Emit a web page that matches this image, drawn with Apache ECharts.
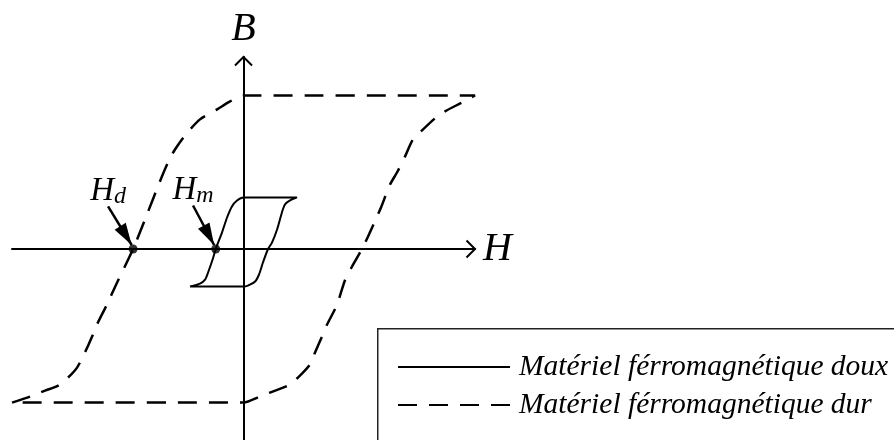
<!DOCTYPE html>
<html>
<head>
<meta charset="utf-8">
<script src="https://cdn.jsdelivr.net/npm/echarts@6/dist/echarts.min.js"></script>
<style>
  html, body { margin: 0; padding: 0; background: #ffffff; }
  #chart { width: 894px; height: 440px; }
</style>
</head>
<body>
<div id="chart"></div>
<script>
// Hard ferromagnetic material: one full cycle of the B(H) loop (arbitrary units)
const hardH = [-10, -9.22, -8.57, -8.01, -7.58, -7.19, -6.85, -6.54, -6.33, -5.90, -5.46, -4.77, -4.17, -3.61, -3.26, -2.96, -2.53, -1.88, -1.14, -0.58, 0,
               10, 9.44, 8.70, 8.27, 7.71, 7.32, 6.98, 6.63, 6.33, 5.94, 5.77, 5.38, 5.12, 4.69, 4.38, 4.04, 3.61, 3.39, 3.09, 2.87, 2.35, 1.92, 1.14, 0.71, 0, -10];
const hardB = [-10, -9.61, -9.22, -8.89, -8.37, -7.72, -6.74, -5.70, -4.92, -3.62, -2.18, 0, 2.25, 4.40, 5.64, 6.48, 7.39, 8.44, 9.09, 9.61, 10,
               10, 9.54, 8.96, 8.50, 7.72, 7.13, 6.03, 4.98, 4.20, 2.70, 2.12, 0.81, 0, -1.14, -2.05, -3.62, -4.92, -5.70, -6.74, -7.52, -8.37, -8.89, -9.35, -9.61, -10, -10];

// Soft ferromagnetic material: narrow loop
const softH = [-2.31, -1.88, -1.66, -1.53, -1.32, -1.2, -0.93, -0.71, -0.50, -0.28, 0,
               2.31, 2.01, 1.79, 1.66, 1.45, 1.23, 1.06, 0.84, 0.67, 0.50, 0.19, 0, -2.31];
const softB = [-2.44, -2.25, -1.99, -1.53, -0.62, 0, 1.07, 2.05, 2.77, 3.16, 3.36,
               3.36, 3.16, 2.90, 2.38, 1.27, 0.42, 0, -0.88, -1.66, -2.12, -2.38, -2.44, -2.44];

// Coercive fields marked on the H axis, with their pointer arrows
const coerciveH = [-4.77, -1.2];
const coerciveSub = ['d', 'm'];
const pointerTailH = [-5.85, -2.18];
const pointerTailB = [2.77, 2.83];
const pointerTipH = [-4.83, -1.27];
const pointerTipB = [0.26, 0.26];

const seriesNames = ['Matériel férromagnétique doux', 'Matériel férromagnétique dur'];
const axisNames = ['H', 'B'];

const H_RANGE = [-10, 10];
const B_RANGE = [-12.5, 12.5];

const serif = 'Liberation Serif, Times New Roman, serif';
const zip = (xs, ys) => xs.map((x, i) => [x, ys[i]]);

const chart = echarts.init(document.getElementById('chart'), null, { renderer: 'canvas' });

const axisText = { fontFamily: serif, fontStyle: 'italic', fontSize: 40, color: '#000' };

// Legend frame: open towards the right and bottom edges of the canvas
const legendFrame = { left: 377, top: 328 };

chart.setOption({
  animation: false,
  backgroundColor: '#ffffff',
  grid: { left: 12, top: 57, width: 463, height: 384, outerBoundsMode: 'none', containLabel: false },
  xAxis: {
    type: 'value', min: H_RANGE[0], max: H_RANGE[1],
    name: axisNames[0], nameLocation: 'end', nameGap: 8,
    nameTextStyle: axisText,
    axisLine: { show: true, onZero: true, lineStyle: { color: '#000', width: 2 } },
    axisTick: { show: false }, axisLabel: { show: false }, splitLine: { show: false }
  },
  yAxis: {
    type: 'value', min: B_RANGE[0], max: B_RANGE[1],
    name: axisNames[1], nameLocation: 'end', nameGap: 8,
    nameTextStyle: axisText,
    axisLine: { show: true, onZero: true, lineStyle: { color: '#000', width: 2 } },
    axisTick: { show: false }, axisLabel: { show: false }, splitLine: { show: false }
  },
  legend: {
    data: seriesNames,
    orient: 'vertical',
    left: legendFrame.left, top: legendFrame.top,
    padding: [24, 0, 0, 20],
    itemWidth: 112, itemHeight: 14, itemGap: 8,
    selectedMode: false,
    itemStyle: { opacity: 0 },
    textStyle: { fontFamily: serif, fontStyle: 'italic', fontSize: 29.5, color: '#000', lineHeight: 30, padding: [0, 0, 0, 4] }
  },
  series: [
    {
      name: seriesNames[0], type: 'line', data: zip(softH, softB),
      symbol: 'none', smooth: 0.25, silent: true, z: 3,
      lineStyle: { color: '#000', width: 2, type: 'solid' }, itemStyle: { color: '#000' }
    },
    {
      name: seriesNames[1], type: 'line', data: zip(hardH, hardB),
      symbol: 'none', smooth: 0.25, silent: true, z: 3,
      lineStyle: { color: '#000', width: 2.5, type: [19, 12] }, itemStyle: { color: '#000' }
    },
    {
      name: 'coercive', type: 'scatter', data: coerciveH.map(h => [h, 0]),
      symbol: 'circle', symbolSize: 9, silent: true, z: 5,
      itemStyle: { color: '#000' },
      markLine: {
        silent: true, animation: false,
        symbol: ['none', 'triangle'],
        symbolSize: [0, [13, 22]],
        symbolOffset: [0, [0, '50%']],
        label: { show: false },
        lineStyle: { color: '#000', width: 2.5, type: 'solid' },
        emphasis: { disabled: true },
        data: coerciveH.map((h, i) => [
          { coord: [pointerTailH[i], pointerTailB[i]] },
          { coord: [pointerTipH[i], pointerTipB[i]], symbolSize: [13, 22], symbolOffset: [0, '50%'] }
        ])
      }
    },
    {
      name: 'coercive labels', type: 'scatter', silent: true, z: 5,
      data: coerciveSub.map((s, i) => ({ value: [pointerTailH[i], pointerTailB[i]], name: s })),
      symbolSize: 0,
      label: {
        show: true, position: 'top', distance: -2,
        color: '#000', textBorderWidth: 0, opacity: 1,
        formatter: p => '{h|H}{s|' + p.name + '}',
        rich: {
          h: { fontFamily: serif, fontStyle: 'italic', fontSize: 33, color: '#000', lineHeight: 34 },
          s: { fontFamily: serif, fontStyle: 'italic', fontSize: 24, color: '#000', lineHeight: 20, verticalAlign: 'bottom' }
        }
      }
    }
  ]
});

// Legend frame plus open chevron arrowheads at the positive ends of both axes
const hEnd = chart.convertToPixel({ gridIndex: 0 }, [H_RANGE[1], 0]);
const bEnd = chart.convertToPixel({ gridIndex: 0 }, [0, B_RANGE[1]]);
const head = 8.5;
chart.setOption({
  graphic: [
    {
      id: 'legendFrame', type: 'rect', silent: true, z: 1,
      shape: { x: legendFrame.left + 0.75, y: legendFrame.top + 0.75, width: 700, height: 300 },
      style: { fill: null, stroke: '#222', lineWidth: 1.5 }
    },
    {
      id: 'arrowH', type: 'polyline', silent: true, z: 10,
      shape: { points: [[hEnd[0] - head, hEnd[1] - head], [hEnd[0], hEnd[1]], [hEnd[0] - head, hEnd[1] + head]] },
      style: { stroke: '#000', lineWidth: 2, fill: null }
    },
    {
      id: 'arrowB', type: 'polyline', silent: true, z: 10,
      shape: { points: [[bEnd[0] - head, bEnd[1] + head], [bEnd[0], bEnd[1]], [bEnd[0] + head, bEnd[1] + head]] },
      style: { stroke: '#000', lineWidth: 2, fill: null }
    }
  ]
});
</script>
</body>
</html>
